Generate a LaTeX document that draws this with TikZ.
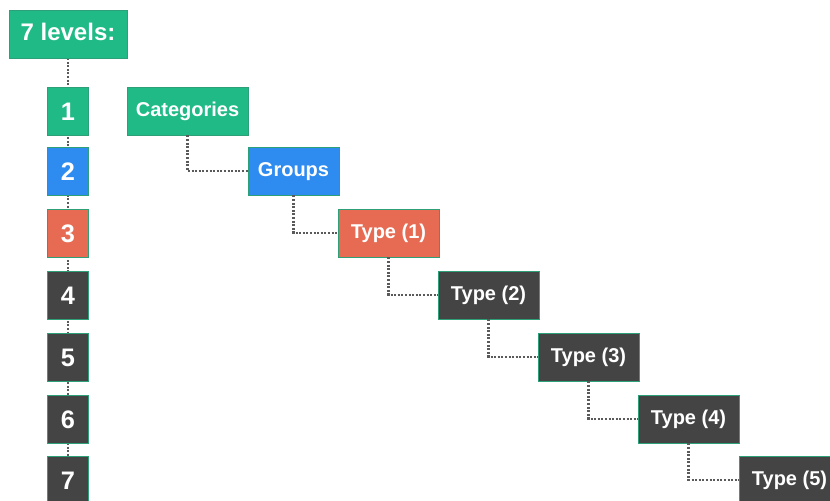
\documentclass[tikz,border=0pt]{standalone}
\usepackage{fontspec}
\setmainfont{Liberation Sans}
\usepackage{tikz}

\definecolor{lvgreen}{RGB}{32,186,134}
\definecolor{lvblue}{RGB}{46,139,240}
\definecolor{lvred}{RGB}{231,106,82}
\definecolor{lvdark}{RGB}{68,68,68}
\definecolor{lvedge}{RGB}{46,160,120}
\definecolor{lvdot}{RGB}{90,90,90}

\tikzset{
  box/.style={draw=lvedge, line width=0.6pt, text=white, inner sep=0pt,
    font=\bfseries\fontsize{15}{15}\selectfont, minimum height=36pt,
    text height=11pt, text depth=3pt},
  numbox/.style={box, minimum width=30.75pt, font=\bfseries\fontsize{19}{19}\selectfont,
    text height=13.5pt, text depth=0pt},
  typebox/.style={box, fill=lvdark, minimum width=75.75pt},
  dotline/.style={draw=lvdot, line width=1.6pt, dash pattern=on 1.5pt off 1.2pt}
}

\begin{document}
\begin{tikzpicture}[x=0.75pt,y=0.75pt,yscale=-1,xscale=1]
\useasboundingbox (0,0) rectangle (830,500);

% Column of levels
\draw[dotline] (68,58) -- (68,470);
\node[box, fill=lvgreen, minimum width=88.5pt, font=\bfseries\fontsize{18}{18}\selectfont,
  text height=13pt, text depth=3pt] (lv) at (68,34) {7 levels:};
\node[numbox, fill=lvgreen] (n1) at (68,111) {1};
\node[numbox, fill=lvblue] (n2) at (68,171) {2};
\node[numbox, fill=lvred] (n3) at (68,233) {3};
\node[numbox, fill=lvdark] (n4) at (68,295) {4};
\node[numbox, fill=lvdark] (n5) at (68,357) {5};
\node[numbox, fill=lvdark] (n6) at (68,419) {6};
\node[numbox, fill=lvdark] (n7) at (68,480) {7};

% Staircase of levels
\node[box, fill=lvgreen, minimum width=90.75pt] (cat) at (187.5,111) {Categories};
\node[box, fill=lvblue, minimum width=68.25pt] (grp) at (293.5,171) {Groups};
\node[typebox, fill=lvred] (t1) at (388.5,233) {Type (1)};
\node[typebox] (t2) at (488.5,295) {Type (2)};
\node[typebox] (t3) at (588.5,357) {Type (3)};
\node[typebox] (t4) at (688.5,419) {Type (4)};
\node[typebox] (t5) at (789.5,480) {Type (5)};

\draw[dotline] (cat.south) |- (grp.west);
\draw[dotline] (grp.south) |- (t1.west);
\draw[dotline] (t1.south) |- (t2.west);
\draw[dotline] (t2.south) |- (t3.west);
\draw[dotline] (t3.south) |- (t4.west);
\draw[dotline] (t4.south) |- (t5.west);

\end{tikzpicture}
\end{document}
